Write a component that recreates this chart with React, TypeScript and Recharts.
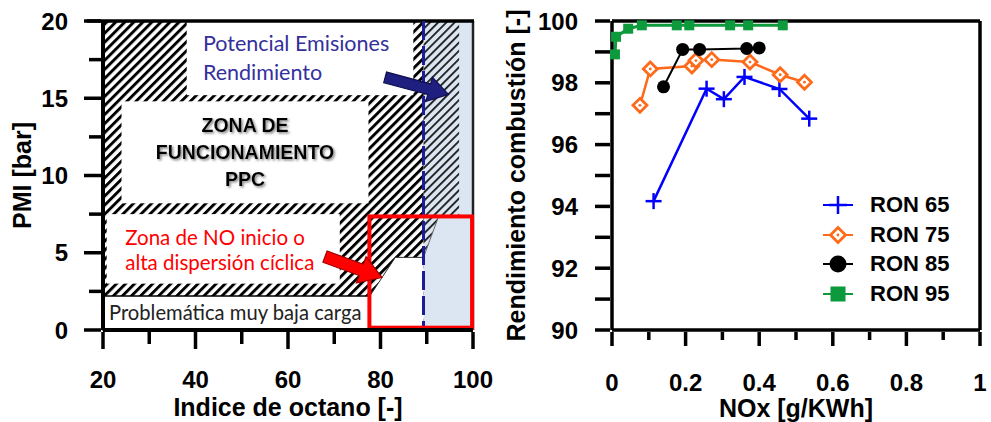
import React from 'react';
import { ComposedChart, LineChart, Line, XAxis, YAxis, ReferenceArea, ReferenceLine, Legend } from 'recharts';

const AX_FONT = '"Liberation Sans", Arial, Helvetica, sans-serif';
const TXT_FONT = 'Lato, "Open Sans", sans-serif';

// ---------------- Left panel: operating map ----------------
const OCTANE_DOMAIN = [20, 100];
const PMI_DOMAIN = [0, 20];
const OCTANE_TICKS = [20, 30, 40, 50, 60, 70, 80, 90, 100];
const OCTANE_LABELS = [20, 40, 60, 80, 100];
const PMI_TICKS = [0, 2.5, 5, 7.5, 10, 12.5, 15, 17.5, 20];
const PMI_LABELS = [0, 5, 10, 15, 20];
const MAP_FRAME = [{ x: 20, y: 0 }, { x: 100, y: 20 }];

const OCTANE_LIMIT = 89.3;
const HATCH_ZONE = { x1: 20, x2: 89.3, y1: 0, y2: 20 };
const WHITE_BOXES = [
  { x1: 38.1, x2: 87.1, y1: 15.2, y2: 20 },
  { x1: 24.0, x2: 77.4, y1: 8.2, y2: 14.8 },
  { x1: 20.8, x2: 71.2, y1: 3.0, y2: 7.5 },
];
const LOW_LOAD_BOX = { x1: 20, x2: 77.7, y1: 0, y2: 2.2 };
const WHITE_CORNER = [[77.7, 2.2], [83.2, 4.7], [89.3, 4.7], [89.3, 0], [77.7, 0]];
const BLUE_ZONE = { x1: 89.3, x2: 100, y1: 0, y2: 20 };
const BLUE_HATCH = [[89.3, 4.7], [92.5, 7.3], [97, 7.3], [97, 20], [89.3, 20]];
const RED_BOX = { x1: 77.6, x2: 99.8, y1: 0.15, y2: 7.35 };
const BLUE_ARROW = { from: [81.0, 16.35], to: [94.7, 15.25] };
const RED_ARROW = { from: [68.0, 4.75], to: [80.3, 3.4] };

const MAP_TEXTS = [
  { text: 'Potencial Emisiones', x: 41.6, y: 18.55, anchor: 'start', color: '#33309c', bold: false, size: 21.5 },
  { text: 'Rendimiento', x: 41.6, y: 16.7, anchor: 'start', color: '#33309c', bold: false, size: 21.5 },
  { text: 'ZONA DE', x: 50.7, y: 13.25, anchor: 'middle', color: '#000', bold: true, size: 19.5, shadow: true },
  { text: 'FUNCIONAMIENTO', x: 50.7, y: 11.5, anchor: 'middle', color: '#000', bold: true, size: 19.5, shadow: true },
  { text: 'PPC', x: 50.7, y: 9.74, anchor: 'middle', color: '#000', bold: true, size: 19.5, shadow: true },
  { text: 'Zona de NO inicio o', x: 24.8, y: 5.97, anchor: 'start', color: '#ff0000', bold: false, size: 20.5 },
  { text: 'alta dispersión cíclica', x: 24.8, y: 4.35, anchor: 'start', color: '#ff0000', bold: false, size: 20.5 },
  { text: 'Problemática muy baja carga', x: 21.3, y: 1.1, anchor: 'start', color: '#222', bold: false, size: 20.2 },
];

// ---------------- Right panel: efficiency vs NOx ----------------
const NOX_TICKS = [0, 0.1, 0.2, 0.3, 0.4, 0.5, 0.6, 0.7, 0.8, 0.9, 1];
const NOX_LABELS = [0, 0.2, 0.4, 0.6, 0.8, 1];
const EFF_TICKS = [90, 91, 92, 93, 94, 95, 96, 97, 98, 99, 100];
const EFF_LABELS = [90, 92, 94, 96, 98, 100];

const RON65_NOX = [0.113, 0.257, 0.304, 0.36, 0.455, 0.536];
const RON65_EFF = [94.17, 97.81, 97.47, 98.19, 97.8, 96.84];
const RON75_NOX = [0.076, 0.104, 0.217, 0.228, 0.271, 0.375, 0.457, 0.523];
const RON75_EFF = [97.27, 98.45, 98.54, 98.72, 98.75, 98.67, 98.26, 98.02];
const RON85_NOX = [0.14, 0.192, 0.238, 0.366, 0.4];
const RON85_EFF = [97.87, 99.08, 99.08, 99.11, 99.13];
const RON95_NOX = [0.008, 0.011, 0.044, 0.081, 0.176, 0.21, 0.321, 0.37, 0.464];
const RON95_EFF = [98.92, 99.49, 99.75, 99.86, 99.86, 99.86, 99.86, 99.86, 99.86];

const zip = (xs: number[], ys: number[]) => xs.map((x, i) => ({ x, y: ys[i] }));

const SERIES = [
  { name: 'RON 65', data: zip(RON65_NOX, RON65_EFF), color: '#0000ff', marker: 'cross', size: 16, legendSize: 18, width: 2.5 },
  { name: 'RON 75', data: zip(RON75_NOX, RON75_EFF), color: '#ff6a1a', marker: 'diamond', size: 14, legendSize: 15, width: 2.5 },
  { name: 'RON 85', data: zip(RON85_NOX, RON85_EFF), color: '#000000', marker: 'circle', size: 13, legendSize: 17, width: 2 },
  { name: 'RON 95', data: zip(RON95_NOX, RON95_EFF), color: '#0d9a3c', marker: 'square', size: 10, legendSize: 15, width: 3 },
];

function drawMarker(kind: string, cx: number, cy: number, s: number, color: string) {
  if (kind === 'cross') {
    return (
      <g>
        <line x1={cx - s / 2} x2={cx + s / 2} y1={cy} y2={cy} stroke={color} strokeWidth={2.5} />
        <line x1={cx} x2={cx} y1={cy - s / 2} y2={cy + s / 2} stroke={color} strokeWidth={2.5} />
      </g>
    );
  }
  if (kind === 'diamond') {
    const h = s / 2;
    return (
      <g>
        <polygon points={`${cx},${cy - h} ${cx + h},${cy} ${cx},${cy + h} ${cx - h},${cy}`} fill="#fff" stroke={color} strokeWidth={2.8} />
        <circle cx={cx} cy={cy} r={1.4} fill={color} />
      </g>
    );
  }
  if (kind === 'circle') return <circle cx={cx} cy={cy} r={s / 2} fill={color} />;
  return <rect x={cx - s / 2} y={cy - s / 2} width={s} height={s} fill={color} />;
}

// ---------------- ticks ----------------
function makeBottomTick(labels: number[], majorLen: number, minorLen: number, labelDy: number) {
  return (props: any) => {
    const { x, y, payload } = props;
    const v = payload.value;
    const major = labels.some((l) => Math.abs(l - v) < 1e-9);
    return (
      <g>
        <line x1={x} x2={x} y1={y} y2={y + (major ? majorLen : minorLen)} stroke="#000" strokeWidth={3.5} />
        {major && (
          <text x={x} y={y + labelDy + 8.5} textAnchor="middle" fontFamily={AX_FONT} fontWeight="bold" fontSize={24} fill="#000">
            {String(v)}
          </text>
        )}
      </g>
    );
  };
}

function makeLeftTick(labels: number[], majorLen: number, minorLen: number, labelGap: number) {
  return (props: any) => {
    const { x, y, payload } = props;
    const v = payload.value;
    const major = labels.some((l) => Math.abs(l - v) < 1e-9);
    return (
      <g>
        <line x1={x - (major ? majorLen : minorLen)} x2={x} y1={y} y2={y} stroke="#000" strokeWidth={3.5} />
        {major && (
          <text x={x - labelGap} y={y + 8.5} textAnchor="end" fontFamily={AX_FONT} fontWeight="bold" fontSize={24} fill="#000">
            {String(v)}
          </text>
        )}
      </g>
    );
  };
}

function XTitle(text: string, dy: number) {
  return (props: any) => {
    const vb = props.viewBox || {};
    return (
      <text x={vb.x + vb.width / 2} y={vb.y + dy + 9} textAnchor="middle" fontFamily={AX_FONT} fontWeight="bold" fontSize={25} fill="#000">
        {text}
      </text>
    );
  };
}

function YTitle(text: string, cx: number) {
  return (props: any) => {
    const vb = props.viewBox || {};
    const cy = vb.y + vb.height / 2;
    return (
      <text x={cx} y={cy} transform={`rotate(-90 ${cx} ${cy})`} dy={9} textAnchor="middle" fontFamily={AX_FONT} fontWeight="bold" fontSize={25} fill="#000">
        {text}
      </text>
    );
  };
}

// ---------------- schematic drawn from the plot rectangle ----------------
function Schematic(props: any) {
  const { x, y, width, height } = props;
  const X = (v: number) => x + ((v - OCTANE_DOMAIN[0]) / (OCTANE_DOMAIN[1] - OCTANE_DOMAIN[0])) * width;
  const Y = (v: number) => y + height - ((v - PMI_DOMAIN[0]) / (PMI_DOMAIN[1] - PMI_DOMAIN[0])) * height;
  const box = (b: any, extra: any, key?: string) => (
    <rect key={key} x={X(b.x1)} y={Y(b.y2)} width={X(b.x2) - X(b.x1)} height={Y(b.y1) - Y(b.y2)} {...extra} />
  );
  const pts = (p: number[][]) => p.map(([a, b]) => `${X(a)},${Y(b)}`).join(' ');
  const arrow = (a: any, fill: string, stroke: string, sw: number, hw: number, hl: number) => {
    const tx = X(a.from[0]), ty = Y(a.from[1]), px = X(a.to[0]), py = Y(a.to[1]);
    const L = Math.hypot(px - tx, py - ty);
    const ux = (px - tx) / L, uy = (py - ty) / L;
    const nx = -uy, ny = ux;
    const bx = px - ux * hl, by = py - uy * hl;
    const p = [
      [tx + nx * sw, ty + ny * sw], [bx + nx * sw, by + ny * sw], [bx + nx * hw, by + ny * hw], [px, py],
      [bx - nx * hw, by - ny * hw], [bx - nx * sw, by - ny * sw], [tx - nx * sw, ty - ny * sw],
    ];
    return <polygon points={p.map((q) => q.join(',')).join(' ')} fill={fill} stroke={stroke} strokeWidth={1.2} strokeLinejoin="miter" />;
  };
  return (
    <g>
      {box(BLUE_ZONE, { fill: '#dce6f2' })}
      {box(HATCH_ZONE, { fill: 'url(#hatchBlack)' })}
      {WHITE_BOXES.map((b, i) => box(b, { fill: '#fff' }, 'w' + i))}
      {box(LOW_LOAD_BOX, { fill: '#fff', stroke: '#000', strokeWidth: 1.5 })}
      <polygon points={pts(WHITE_CORNER)} fill="#fff" />
      <polyline points={pts(WHITE_CORNER.slice(0, 3))} fill="none" stroke="#333" strokeWidth={1} />
      <polygon points={pts(BLUE_HATCH)} fill="url(#hatchBlue)" />
      <polyline points={pts(BLUE_HATCH.slice(0, 2))} fill="none" stroke="#666" strokeWidth={1} />
      <line x1={X(100)} x2={X(100)} y1={Y(0)} y2={Y(20)} stroke="#222" strokeWidth={2.5} />
      <line x1={X(20) - 16} x2={X(100) + 1} y1={Y(20)} y2={Y(20)} stroke="#000" strokeWidth={3.5} />
      <line x1={X(OCTANE_LIMIT)} x2={X(OCTANE_LIMIT)} y1={Y(20)} y2={Y(0)} stroke="#1c1c96" strokeWidth={3} strokeDasharray="19 6" />
      {box(RED_BOX, { fill: 'none', stroke: '#ff0000', strokeWidth: 4 })}
      {arrow(BLUE_ARROW, '#1f1f80', '#101050', 5.5, 12.5, 20)}
      {arrow(RED_ARROW, '#ff0000', '#a00000', 6, 14, 22)}
      {MAP_TEXTS.map((t, i) => (
        <text
          key={'t' + i}
          x={X(t.x)}
          y={Y(t.y) + t.size * 0.35}
          textAnchor={t.anchor as any}
          fontFamily={t.bold ? AX_FONT : TXT_FONT}
          fontWeight={t.bold ? 'bold' : 'normal'}
          fontSize={t.size}
          fill={t.color}
          filter={t.shadow ? 'url(#textShadow)' : undefined}
        >
          {t.text}
        </text>
      ))}
    </g>
  );
}

function LegendBox() {
  return (
    <div style={{ display: 'flex', flexDirection: 'column' }}>
      {SERIES.map((s) => (
        <div key={s.name} style={{ display: 'flex', alignItems: 'center', height: 29.7 }}>
          <svg width={36} height={26} style={{ display: 'block' }}>
            <line x1={3} x2={33} y1={13} y2={13} stroke={s.color} strokeWidth={2} />
            {drawMarker(s.marker, 18, 13, s.legendSize, s.color)}
          </svg>
          <span style={{ marginLeft: 14, fontFamily: AX_FONT, fontWeight: 'bold', fontSize: 22, color: '#000', lineHeight: '26px' }}>{s.name}</span>
        </div>
      ))}
    </div>
  );
}

export default function App() {
  return (
    <div style={{ position: 'absolute', left: 0, top: 0, width: 991, height: 422, background: '#fff', overflow: 'hidden' }}>
      <svg width={0} height={0} style={{ position: 'absolute' }}>
        <defs>
          <pattern id="hatchBlack" width={6.4} height={6.4} patternUnits="userSpaceOnUse" patternTransform="rotate(45)">
            <rect x={0} y={0} width={2.9} height={6.4} fill="#000" />
          </pattern>
          <pattern id="hatchBlue" width={5.8} height={5.8} patternUnits="userSpaceOnUse" patternTransform="rotate(45)">
            <rect x={0} y={0} width={1.8} height={5.8} fill="#1a1a1a" />
          </pattern>
          <filter id="textShadow" x="-10%" y="-30%" width="130%" height="170%">
            <feDropShadow dx={1.5} dy={1.5} stdDeviation={1.2} floodColor="#777" floodOpacity={0.9} />
          </filter>
        </defs>
      </svg>

      <div style={{ position: 'absolute', left: 0, top: 0 }}>
        <ComposedChart width={500} height={422} data={MAP_FRAME} margin={{ top: 21, right: 27, bottom: 0, left: 0 }}>
          <XAxis
            type="number"
            dataKey="x"
            domain={OCTANE_DOMAIN}
            ticks={OCTANE_TICKS}
            interval={0}
            height={92}
            tickSize={0}
            tickLine={false}
            axisLine={{ stroke: '#000', strokeWidth: 4 }}
            tick={makeBottomTick(OCTANE_LABELS, 17, 12, 47)}
            label={{ content: XTitle('Indice de octano [-]', 77) } as any}
          />
          <YAxis
            type="number"
            dataKey="y"
            domain={PMI_DOMAIN}
            ticks={PMI_TICKS}
            interval={0}
            width={103}
            tickSize={0}
            tickLine={false}
            axisLine={{ stroke: '#000', strokeWidth: 4 }}
            tick={makeLeftTick(PMI_LABELS, 17, 12, 33)}
            label={{ content: YTitle('PMI [bar]', 22) } as any}
          />
          <Line dataKey="y" stroke="none" dot={false} activeDot={false} isAnimationActive={false} legendType="none" />
          <ReferenceArea x1={20} x2={100} y1={0} y2={20} shape={(p: any) => <Schematic {...p} />} ifOverflow="visible" />
        </ComposedChart>
      </div>

      <div style={{ position: 'absolute', left: 500, top: 0 }}>
        <LineChart width={491} height={422} margin={{ top: 21, right: 11, bottom: 0, left: 0 }}>
          <XAxis
            type="number"
            dataKey="x"
            domain={[0, 1]}
            ticks={NOX_TICKS}
            interval={0}
            height={92}
            tickSize={0}
            tickLine={false}
            axisLine={{ stroke: '#000', strokeWidth: 3.5 }}
            tick={makeBottomTick(NOX_LABELS, 14, 8, 50)}
            label={{ content: XTitle('NOx [g/KWh]', 78) } as any}
          />
          <YAxis
            type="number"
            domain={[90, 100]}
            ticks={EFF_TICKS}
            interval={0}
            width={112}
            tickSize={0}
            tickLine={false}
            axisLine={{ stroke: '#000', strokeWidth: 3.5 }}
            tick={makeLeftTick(EFF_LABELS, 15, 15, 32)}
            label={{ content: YTitle('Rendimiento combustión [-]', 16) } as any}
          />
          <ReferenceLine y={100} stroke="#000" strokeWidth={3.5} />
          <ReferenceLine x={1} stroke="#000" strokeWidth={3.5} />
          {SERIES.map((s) => (
            <Line
              key={s.name}
              name={s.name}
              data={s.data}
              dataKey="y"
              type="linear"
              stroke={s.color}
              strokeWidth={s.width}
              isAnimationActive={false}
              dot={(p: any) => <g key={`${s.name}-${p.index}`}>{drawMarker(s.marker, p.cx, p.cy, s.size, s.color)}</g>}
              activeDot={false}
            />
          ))}
          <Legend
            verticalAlign="middle"
            layout="horizontal"
            content={() => <LegendBox />}
            wrapperStyle={{ left: 320, top: 190, width: 170, height: 'auto' }}
          />
        </LineChart>
      </div>
    </div>
  );
}
